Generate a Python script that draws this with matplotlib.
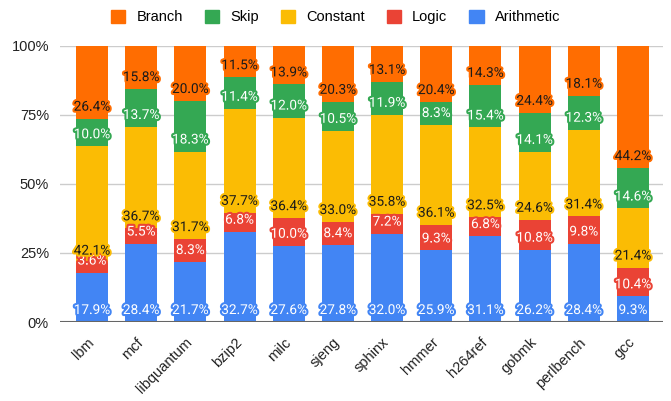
import numpy as np
import matplotlib
matplotlib.use("Agg")
import matplotlib.pyplot as plt
import matplotlib.patheffects as pe
from matplotlib.patches import Patch
from matplotlib.transforms import ScaledTranslation

benchmarks = ["lbm", "mcf", "libquantum", "bzip2", "milc", "sjeng",
              "sphinx", "hmmer", "h264ref", "gobmk", "perlbench", "gcc"]

# percentages, bottom to top
arithmetic = [17.9, 28.4, 21.7, 32.7, 27.6, 27.8, 32.0, 25.9, 31.1, 26.2, 28.4, 9.3]
logic = [3.6, 5.5, 8.3, 6.8, 10.0, 8.4, 7.2, 9.3, 6.8, 10.8, 9.8, 10.4]
constant = [42.1, 36.7, 31.7, 37.7, 36.4, 33.0, 35.8, 36.1, 32.5, 24.6, 31.4, 21.4]
skip = [10.0, 13.7, 18.3, 11.4, 12.0, 10.5, 11.9, 8.3, 15.4, 14.1, 12.3, 14.6]
branch = [26.4, 15.8, 20.0, 11.5, 13.9, 20.3, 13.1, 20.4, 14.3, 24.4, 18.1, 44.2]

series = [
    ("Arithmetic", arithmetic, "#4285F4", "white"),
    ("Logic", logic, "#EA4335", "white"),
    ("Constant", constant, "#FBBC04", "#1a1a1a"),
    ("Skip", skip, "#34A853", "white"),
    ("Branch", branch, "#FF6D01", "#1a1a1a"),
]

fig = plt.figure(figsize=(6.71, 4.01), dpi=100)
ax = fig.add_axes([60 / 671, 79 / 401, 603 / 671, 276.3 / 401])

x = np.arange(len(benchmarks))
bottom = np.zeros(len(benchmarks))
label_jobs = []
for name, vals, color, tcolor in series:
    vals = np.array(vals) / 100.0
    ax.bar(x, vals, width=0.65, bottom=bottom, color=color, zorder=2)
    label_jobs.append((vals.copy(), bottom.copy(), color, tcolor))
    bottom += vals

for vals, bots, color, tcolor in label_jobs:
    for xi, v, b in zip(x, vals, bots):
        ax.annotate(f"{v * 100:.1f}%", (xi, b), xytext=(0, 12),
                    textcoords="offset pixels", ha="center", va="center",
                    fontsize=9.8, family="Roboto", color=tcolor, zorder=5,
                    path_effects=[pe.withStroke(linewidth=3, foreground=color)])

ax.set_xlim(-0.65, 11.61)
ax.set_ylim(0, 1)
ax.set_yticks([0, 0.25, 0.5, 0.75, 1.0])
ax.set_yticklabels(["0%", "25%", "50%", "75%", "100%"])
ax.grid(axis="y", color="#cccccc", linewidth=1, zorder=0)
ax.axhline(0, color="#666666", linewidth=1.5, zorder=3)
for s in ax.spines.values():
    s.set_visible(False)
ax.tick_params(axis="both", length=0, labelsize=10.5, labelcolor="#222222")
ax.tick_params(axis="y", pad=8)
ax.set_xticks(x)
ax.set_xticklabels(benchmarks, rotation=45, ha="right", va="center",
                   rotation_mode="anchor", family="Liberation Sans")
for lab in ax.get_yticklabels():
    lab.set_family("Liberation Sans")
shift = ScaledTranslation(4 / 100, 0, fig.dpi_scale_trans)
for lab in ax.get_xticklabels():
    lab.set_transform(lab.get_transform() + shift)
ax.tick_params(axis="x", pad=13)

handles = [Patch(color=c, label=n) for n, _, c, _ in reversed(series)]
fig.legend(handles=handles, loc="center", bbox_to_anchor=(0.5, 1 - 17 / 401),
           ncol=5, frameon=False, handlelength=1.0, handleheight=1.0,
           handletextpad=0.75, columnspacing=1.5,
           prop={"family": "Liberation Sans", "size": 10.5})

fig.savefig("out.png", dpi=100)
